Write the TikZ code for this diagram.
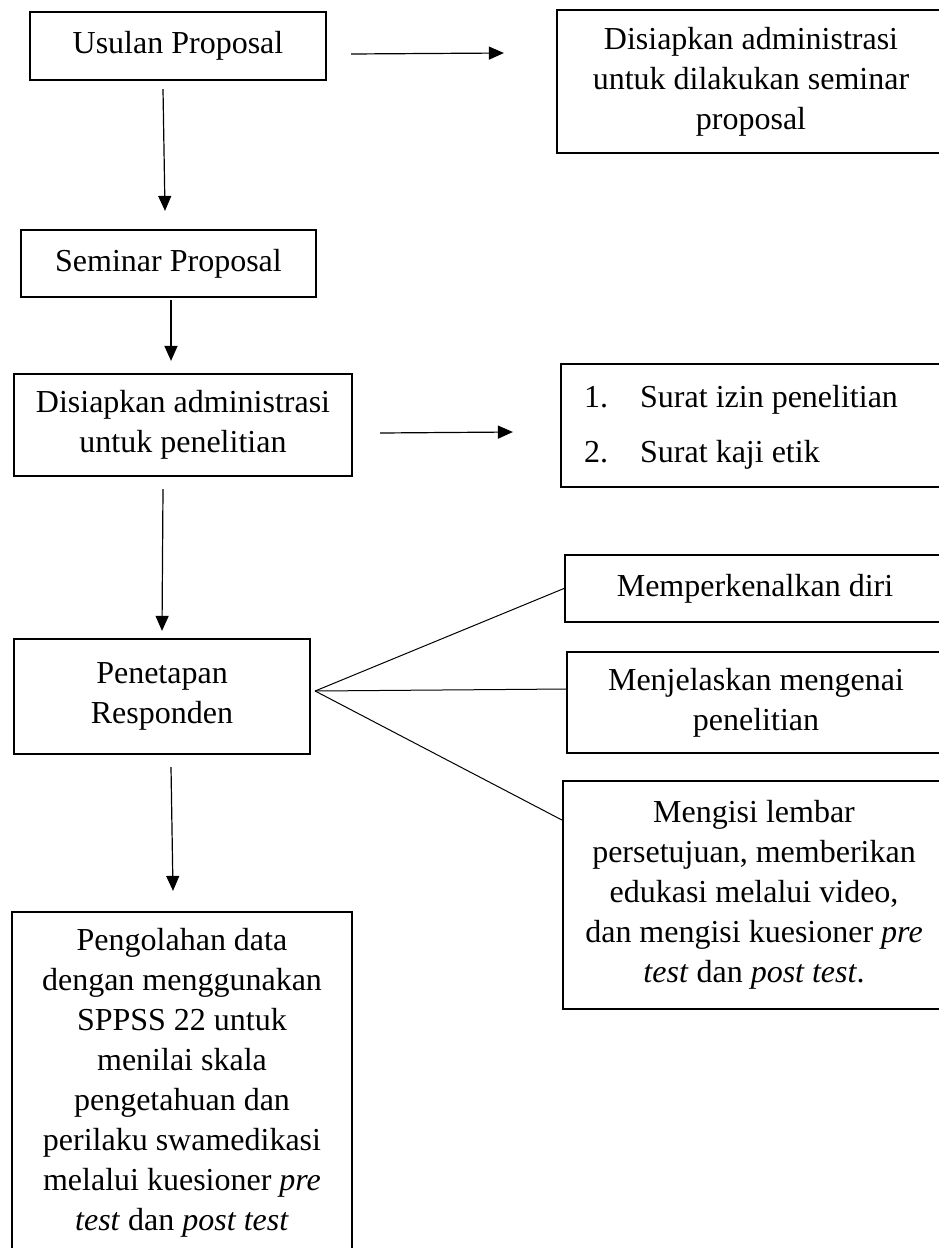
\documentclass[tikz,border=0pt]{standalone}
\usepackage{fontspec}
\setmainfont{Liberation Serif}
\usetikzlibrary{arrows.meta,calc}
\begin{document}
\begin{tikzpicture}[x=1pt,y=-1pt,
  box/.style={draw=black,line width=2.2pt,align=center,inner sep=0pt,
    font={\fontsize{32}{40}\selectfont}},
  lbl/.style={inner sep=0pt,font={\fontsize{32}{40}\selectfont}},
  arr/.style={line width=1.2pt,-{Triangle[length=15pt,width=13pt]}},
  fanline/.style={line width=1pt}]
\useasboundingbox (0,0) rectangle (939,1248);
\clip (0,0) rectangle (939,1248);
\fill[white] (0,0) rectangle (939,1248);
% left column
\node[box,minimum width=296pt,minimum height=68pt] (usulan) at (178,46) {Usulan Proposal};
\node[box,minimum width=295pt,minimum height=67pt] (seminar) at (168.5,263.5) {Seminar Proposal};
\node[box,minimum width=338pt,minimum height=102pt] (admin) at (183,425) {Disiapkan administrasi\\untuk penelitian};
\node[box,minimum width=296pt,minimum height=115pt] (pen) at (162,696.5) {Penetapan\\Responden};
\node[box,minimum width=340pt,minimum height=341pt] (olah) at (182,1082.5) {Pengolahan data\\dengan menggunakan\\SPPSS 22 untuk\\menilai skala\\pengetahuan dan\\perilaku swamedikasi\\melalui kuesioner \textit{pre}\\\textit{test} dan \textit{post test}};
% right column
\node[box,minimum width=388pt,minimum height=143pt] (sem2) at (751,81.5) {Disiapkan administrasi\\untuk dilakukan seminar\\proposal};
\node[box,minimum width=384pt,minimum height=123pt] (list) at (753,425.5) {};
\node[lbl,anchor=base west] (n1) at (584,407) {1.};
\node[lbl,anchor=base west] (t1) at (640,407) {Surat izin penelitian};
\node[lbl,anchor=base west] (n2) at (584,462) {2.};
\node[lbl,anchor=base west] (t2) at (640,462) {Surat kaji etik};
\node[box,minimum width=380pt,minimum height=67pt] (mperk) at (755,588.5) {Memperkenalkan diri};
\node[box,minimum width=378pt,minimum height=101pt] (menj) at (756,702.5) {Menjelaskan mengenai\\penelitian};
\node[box,minimum width=382pt,minimum height=228pt] (mengisi) at (754,895) {Mengisi lembar\\persetujuan, memberikan\\edukasi melalui video,\\dan mengisi kuesioner \textit{pre}\\\textit{test} dan \textit{post test}.};
% arrows
\draw[arr] ($(usulan.east)+(24,8)$) -- ($(sem2.west)+(-52,-28.5)$);
\draw[arr] ($(usulan.south)+(-15,8)$) -- ($(seminar.north)+(-3.5,-18)$);
\draw[arr] ($(seminar.south)+(2.5,2)$) -- ($(admin.north)+(-12,-12)$);
\draw[arr] ($(admin.east)+(27,8)$) -- ($(list.west)+(-47,6.5)$);
\draw[arr] ($(admin.south)+(-20,12)$) -- ($(pen.north)+(0,-7)$);
\draw[arr] ($(pen.south)+(9,12)$) -- ($(olah.north)+(-9,-20)$);
% fan
\coordinate (fan) at ($(pen.east)+(4,-5.5)$);
\draw[fanline] (fan) -- (mperk.west);
\draw[fanline] (fan) -- ($(menj.west)+(1,-13.5)$);
\draw[fanline] (fan) -- ($(mengisi.west)+(0,-75)$);
\end{tikzpicture}
\end{document}
